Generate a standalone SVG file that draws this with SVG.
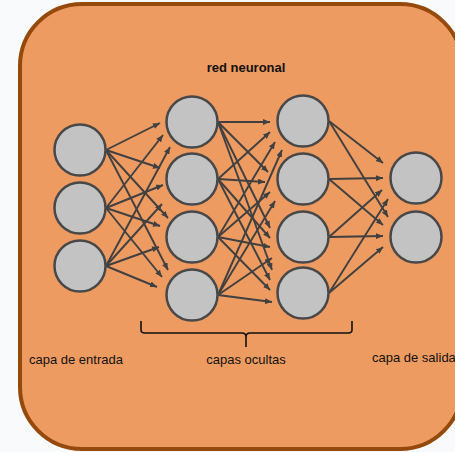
<svg xmlns="http://www.w3.org/2000/svg" width="455" height="452" viewBox="0 0 455 452">
<style>
.n{fill:#C3C3C3;stroke:#484848;stroke-width:2.5}
.e{stroke:#404040;stroke-width:1.9;fill:none;marker-end:url(#ah)}
.t{font-family:"Liberation Sans",Arial,sans-serif;font-size:13px;fill:#111}
</style>
<defs>
<marker id="ah" markerUnits="userSpaceOnUse" markerWidth="7" markerHeight="6" refX="7" refY="3" orient="auto">
<path d="M0,0 L7,3 L0,6 z" fill="#404040"/>
</marker>
</defs>
<rect x="0" y="0" width="455" height="452" fill="#F9FAFC"/>
<rect id="frame" x="20" y="4" width="442" height="445" rx="62" ry="62" fill="#EE9B62" stroke="#954A0C" stroke-width="4"/>
<text class="t" x="246" y="72" text-anchor="middle" font-weight="bold" font-size="14.5">red neuronal</text>
<g id="connectors">
<line class="e" x1="106" y1="150" x2="160" y2="123"/>
<line class="e" x1="106" y1="150" x2="160" y2="168"/>
<line class="e" x1="106" y1="150" x2="168" y2="218"/>
<line class="e" x1="106" y1="150" x2="168" y2="270"/>
<line class="e" x1="106" y1="208" x2="163" y2="135"/>
<line class="e" x1="106" y1="208" x2="163" y2="185"/>
<line class="e" x1="106" y1="208" x2="160" y2="226"/>
<line class="e" x1="106" y1="208" x2="162" y2="277"/>
<line class="e" x1="106" y1="266" x2="170" y2="147"/>
<line class="e" x1="106" y1="266" x2="162" y2="204"/>
<line class="e" x1="106" y1="266" x2="159" y2="247"/>
<line class="e" x1="106" y1="266" x2="157" y2="287"/>
<line class="e" x1="218" y1="122" x2="270" y2="122"/>
<line class="e" x1="218" y1="122" x2="268" y2="172"/>
<line class="e" x1="218" y1="122" x2="270" y2="228"/>
<line class="e" x1="218" y1="122" x2="272" y2="270"/>
<line class="e" x1="218" y1="179" x2="270" y2="132"/>
<line class="e" x1="218" y1="179" x2="265" y2="182"/>
<line class="e" x1="218" y1="179" x2="270" y2="238"/>
<line class="e" x1="218" y1="179" x2="270" y2="280"/>
<line class="e" x1="218" y1="237" x2="275" y2="142"/>
<line class="e" x1="218" y1="237" x2="270" y2="192"/>
<line class="e" x1="218" y1="237" x2="270" y2="247"/>
<line class="e" x1="218" y1="237" x2="270" y2="290"/>
<line class="e" x1="218" y1="295" x2="282" y2="150"/>
<line class="e" x1="218" y1="295" x2="275" y2="201"/>
<line class="e" x1="218" y1="295" x2="272" y2="258"/>
<line class="e" x1="218" y1="295" x2="272" y2="302"/>
<line class="e" x1="329" y1="121" x2="383" y2="163"/>
<line class="e" x1="329" y1="121" x2="388" y2="217"/>
<line class="e" x1="329" y1="179" x2="383" y2="178"/>
<line class="e" x1="329" y1="179" x2="383" y2="225"/>
<line class="e" x1="329" y1="237" x2="382" y2="190"/>
<line class="e" x1="329" y1="237" x2="383" y2="236"/>
<line class="e" x1="329" y1="293" x2="388" y2="199"/>
<line class="e" x1="329" y1="293" x2="383" y2="247"/>
</g>
<g id="in1"><circle class="n" cx="80" cy="150" r="25.5"/></g>
<g id="in2"><circle class="n" cx="80" cy="208" r="25.5"/></g>
<g id="in3"><circle class="n" cx="80" cy="266" r="25.5"/></g>
<g id="h1a"><circle class="n" cx="192" cy="122" r="25.5"/></g>
<g id="h1b"><circle class="n" cx="192" cy="179" r="25.5"/></g>
<g id="h1c"><circle class="n" cx="192" cy="237" r="25.5"/></g>
<g id="h1d"><circle class="n" cx="192" cy="295" r="25.5"/></g>
<g id="h2a"><circle class="n" cx="303" cy="121" r="25.5"/></g>
<g id="h2b"><circle class="n" cx="303" cy="179" r="25.5"/></g>
<g id="h2c"><circle class="n" cx="303" cy="237" r="25.5"/></g>
<g id="h2d"><circle class="n" cx="303" cy="293" r="25.5"/></g>
<g id="out1"><circle class="n" cx="416" cy="178" r="25.5"/></g>
<g id="out2"><circle class="n" cx="416" cy="237" r="25.5"/></g>
<g id="bracket">
<path d="M141,321 L141,330 Q141,333 145,333 L242,333 Q246,333 246,337 L246,347 M246,337 Q246,333 250,333 L348,333 Q352,333 352,330 L352,321" fill="none" stroke="#111" stroke-width="1.6"/>
</g>
<text class="t" x="29" y="364" font-size="13.5">capa de entrada</text>
<text class="t" x="246" y="364" text-anchor="middle">capas ocultas</text>
<text class="t" x="372" y="362" font-size="13.5">capa de salida</text>
</svg>
